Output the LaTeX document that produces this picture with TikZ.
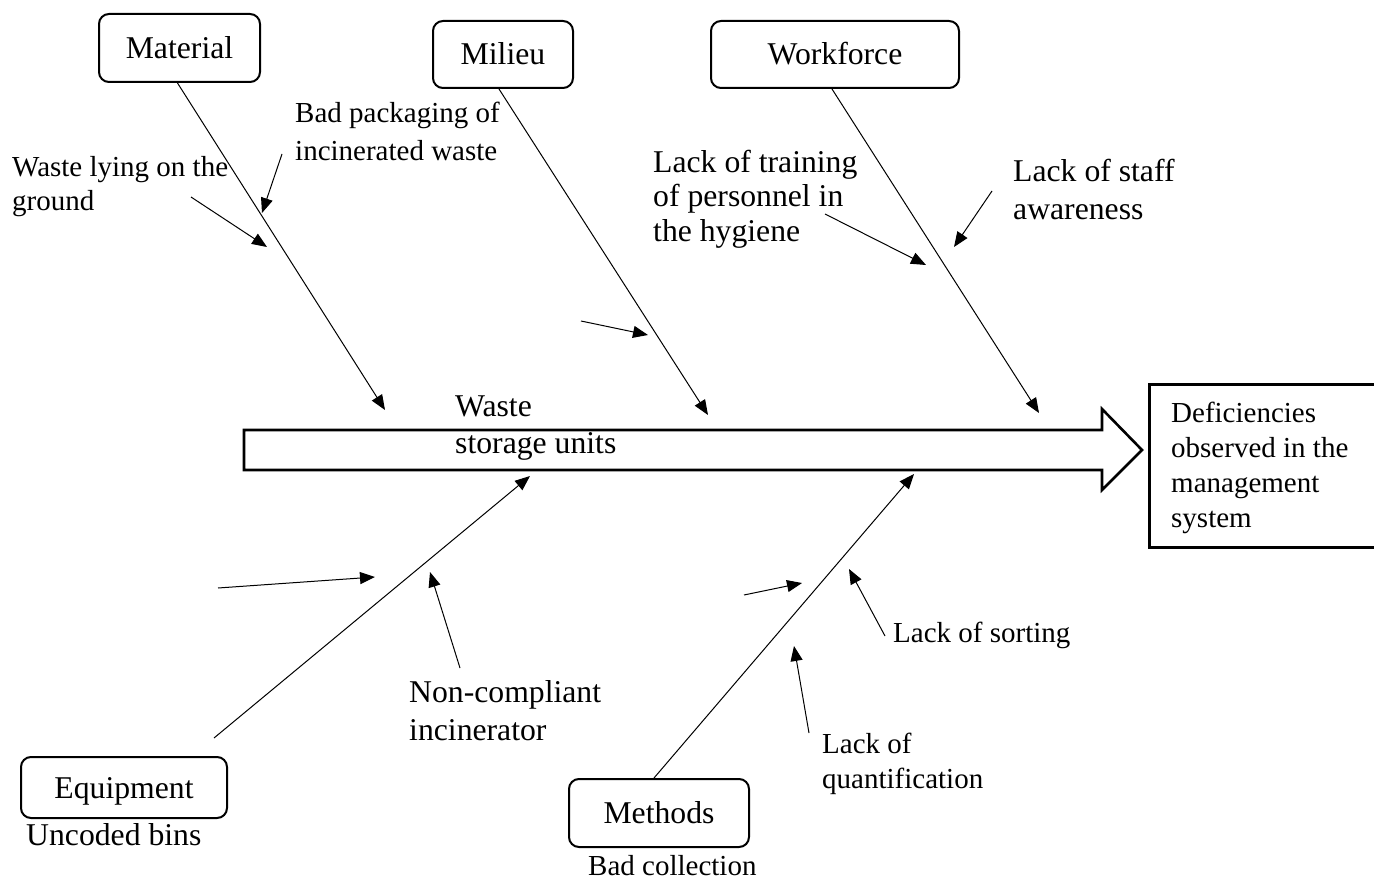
\documentclass[tikz,border=0pt]{standalone}
\usepackage{fontspec}
\setmainfont{Liberation Serif}
\usetikzlibrary{arrows.meta,calc}
\begin{document}
\begin{tikzpicture}[x=1pt,y=-1pt,
  catbox/.style={draw, line width=2pt, rounded corners=10pt, inner sep=0pt,
    text height=21pt, text depth=0pt, font=\fontsize{31.7}{38}\selectfont},
  bone/.style={line width=1pt, -{Triangle[length=15pt,width=12pt]}},
  cause/.style={line width=1pt, -{Triangle[length=15pt,width=12pt]}},
  lblS/.style={anchor=base west, inner sep=0pt, font=\fontsize{29}{35}\selectfont},
  lblL/.style={anchor=base west, inner sep=0pt, font=\fontsize{31.7}{38}\selectfont},
]
\useasboundingbox (0,0) rectangle (1374,880);

% main spine (block arrow)
\coordinate (spTail) at (244,450);
\coordinate (spTip) at (1142,450);
\draw[line width=2.6pt, fill=white, line join=miter]
  (244,430) -- (1102,430) -- (1102,409) -- (spTip) -- (1102,490) -- (1102,470) -- (244,470) -- cycle;

% effect box
\node[draw, line width=2.5pt, minimum width=232pt, minimum height=163pt, anchor=north west, inner sep=0pt] (def) at (1148,383) {};
\node[lblS] (deftxt) at (1171,422) {\vtop{\hbox{Deficiencies}\hbox{observed in the}\hbox{management}\hbox{system}}};

% category boxes
\node[catbox, minimum width=161pt, minimum height=68pt] (mat) at (179.5,48) {Material};
\node[catbox, minimum width=140pt, minimum height=67pt] (mil) at (503,54.5) {Milieu};
\node[catbox, minimum width=248pt, minimum height=67pt] (wf) at (835,54.5) {Workforce};
\node[catbox, minimum width=206pt, minimum height=61pt] (eq) at (124,787.5) {Equipment};
\node[catbox, minimum width=180pt, minimum height=68pt] (met) at (659,813) {Methods};

% bones
\coordinate (matTip) at (385,410);
\coordinate (milTip) at (708,415);
\coordinate (wfTip) at (1039,413);
\coordinate (eqTip) at (530,476);
\coordinate (metTip) at (914,474);
\draw[bone] ([xshift=-2pt]mat.south) -- (matTip);
\draw[bone] ([xshift=-4pt]mil.south) -- (milTip);
\draw[bone] ([xshift=-3pt]wf.south) -- (wfTip);
\draw[bone] ($(eq.north)+(90,-18)$) -- (eqTip);
\draw[bone] ([xshift=-5pt]met.north) -- (metTip);

% spine label
\node[lblL, font=\fontsize{31.7}{37}\selectfont] (spl) at (455,416) {\vtop{\hbox{Waste}\hbox{storage units}}};

% cause labels
\node[lblS] (c1) at (12,176) {\vtop{\hbox{Waste lying on the}\hbox{ground}}};
\node[lblS, font=\fontsize{29}{38}\selectfont] (c2) at (295,123) {\vtop{\hbox{Bad packaging of}\hbox{incinerated waste}}};
\node[lblL, font=\fontsize{31.7}{35}\selectfont] (c4) at (653,172) {\vtop{\hbox{Lack of training}\hbox{of personnel in}\hbox{the hygiene}}};
\node[lblL] (c5) at (1013,182) {\vtop{\hbox{Lack of staff}\hbox{awareness}}};
\node[lblL] (c7) at (409,702) {\vtop{\hbox{Non-compliant}\hbox{incinerator}}};
\node[lblL] (c6) at (26,845) {Uncoded bins};
\node[lblS] (c8) at (588,875) {Bad collection};
\node[lblS] (c9) at (893,642) {Lack of sorting};
\node[lblS] (c10) at (822,753) {\vtop{\hbox{Lack of}\hbox{quantification}}};

% cause arrows
\coordinate (a1s) at (191,197);  \coordinate (a1e) at (267,247);
\coordinate (a2s) at (282,154);  \coordinate (a2e) at (262,213);
\coordinate (a3s) at (581,321);  \coordinate (a3e) at (648,335);
\coordinate (a4s) at (825,214);  \coordinate (a4e) at (926,265);
\coordinate (a5s) at (992,191);  \coordinate (a5e) at (954,247);
\coordinate (a6s) at (218,588);  \coordinate (a6e) at (375,577);
\coordinate (a7s) at (460,668);  \coordinate (a7e) at (430,572);
\coordinate (a8s) at (744,595);  \coordinate (a8e) at (802,583);
\coordinate (a9s) at (885,636);  \coordinate (a9e) at (849,569);
\coordinate (a10s) at (809,733); \coordinate (a10e) at (794,646);
\foreach \i in {1,...,10} { \draw[cause] (a\i s) -- (a\i e); }
\end{tikzpicture}
\end{document}
